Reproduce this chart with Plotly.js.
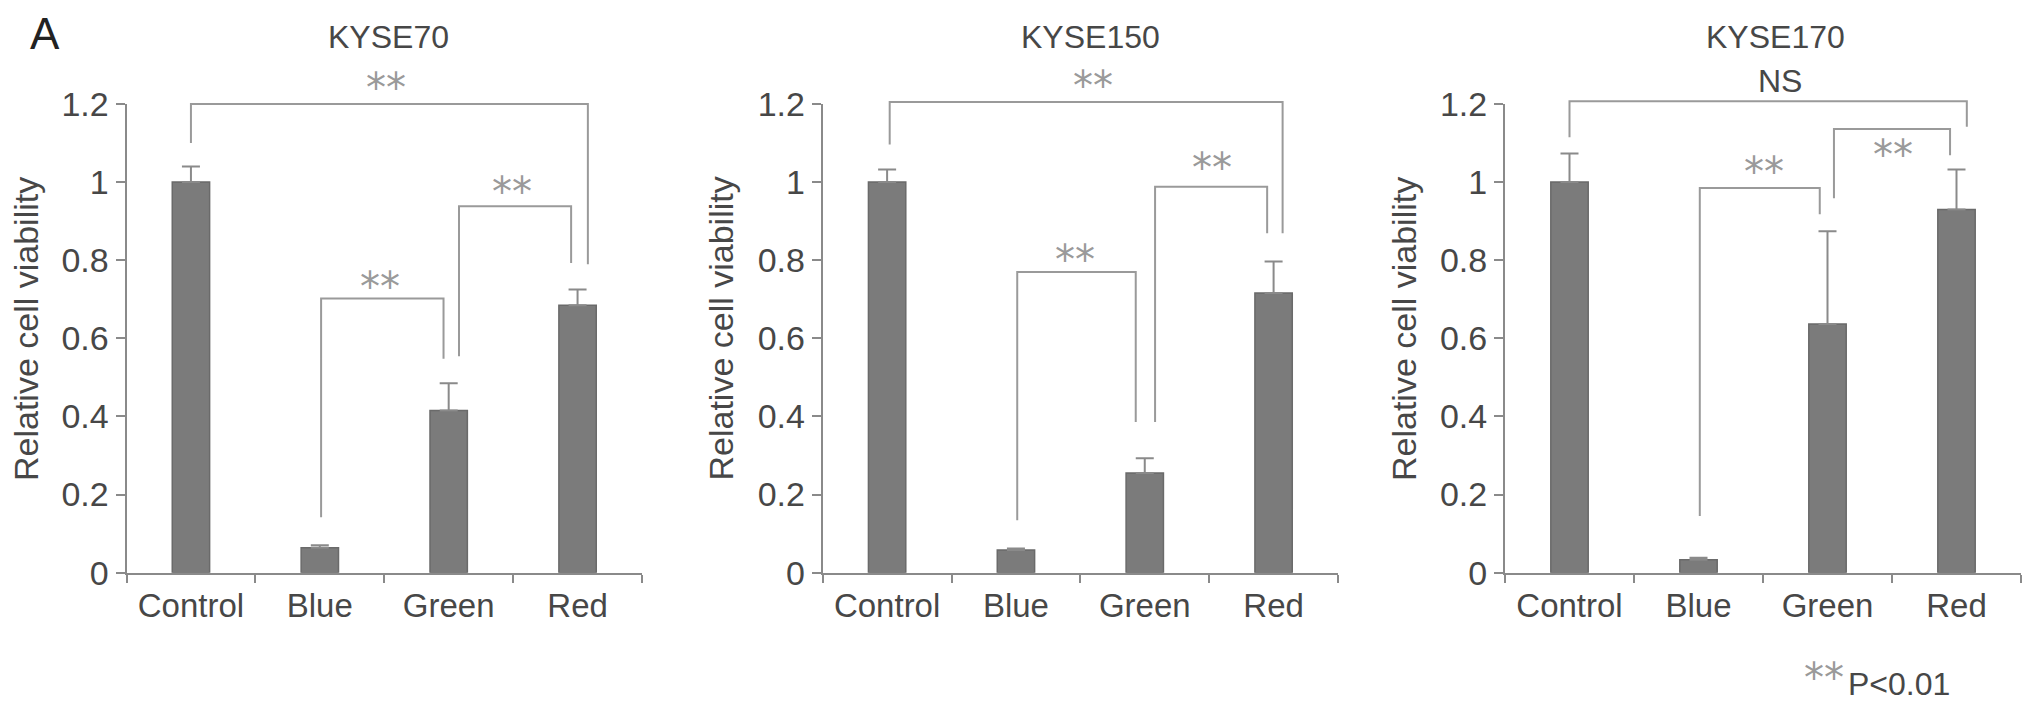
<!DOCTYPE html>
<html>
<head>
<meta charset="utf-8">
<script src="https://cdn.plot.ly/plotly-3.0.1.min.js"></script>
<style>
html,body{margin:0;padding:0;background:#ffffff;}
#chart{width:2032px;height:709px;}
</style>
</head>
<body>
<div id="chart"></div>
<script>
// ---------- data ----------
const categories = ['Control', 'Blue', 'Green', 'Red'];
const panelTitles = ['KYSE70', 'KYSE150', 'KYSE170'];
const yTickValues = [0, 0.2, 0.4, 0.6, 0.8, 1, 1.2];
const yTickLabels = ['0', '0.2', '0.4', '0.6', '0.8', '1', '1.2'];
const yAxisTitle = 'Relative cell viability';

const kyse70Values = [1.0, 0.064, 0.415, 0.685];
const kyse70Errors = [0.04, 0.006, 0.07, 0.04];
const kyse150Values = [1.0, 0.058, 0.255, 0.716];
const kyse150Errors = [0.032, 0.004, 0.038, 0.081];
const kyse170Values = [1.0, 0.033, 0.637, 0.930];
const kyse170Errors = [0.073, 0.005, 0.237, 0.102];

// significance brackets: left x, right x (category index), top y, left end y, right end y
const kyse70BracketLeftX   = [0.00, 1.01, 2.08];
const kyse70BracketRightX  = [3.08, 1.96, 2.95];
const kyse70BracketTopY    = [1.200, 0.702, 0.938];
const kyse70BracketLeftEnd = [1.100, 0.142, 0.554];
const kyse70BracketRightEnd= [0.790, 0.548, 0.793];
const kyse70BracketLabels  = ['**', '**', '**'];
const kyse70LabelX         = [1.51, 1.47, 2.49];
const kyse70LabelY         = [1.254, 0.745, 0.988];

const kyse150BracketLeftX   = [0.02, 1.01, 2.08];
const kyse150BracketRightX  = [3.07, 1.93, 2.95];
const kyse150BracketTopY    = [1.205, 0.770, 0.988];
const kyse150BracketLeftEnd = [1.096, 0.134, 0.386];
const kyse150BracketRightEnd= [0.869, 0.386, 0.869];
const kyse150BracketLabels  = ['**', '**', '**'];
const kyse150LabelX         = [1.60, 1.46, 2.52];
const kyse150LabelY         = [1.258, 0.814, 1.049];

const kyse170BracketLeftX   = [0.00, 1.01, 2.05];
const kyse170BracketRightX  = [3.08, 1.94, 2.95];
const kyse170BracketTopY    = [1.207, 0.985, 1.136];
const kyse170BracketLeftEnd = [1.115, 0.145, 0.959];
const kyse170BracketRightEnd= [1.142, 0.918, 1.069];
const kyse170BracketLabels  = ['NS', '**', '**'];
const kyse170LabelX         = [1.63, 1.51, 2.51];
const kyse170LabelY         = [1.258, 1.038, 1.081];

const panelLetter = 'A';
const footnoteStars = '**';
const footnoteText = 'P&lt;0.01';

// ---------- layout / style ----------
const W = 2032, H = 709;
const FONT = 'Liberation Sans, Arial, Helvetica, sans-serif';
const TEXT = '#474747';
const AXIS = '#8a8a8a';
const BAR = '#7b7b7b';
const BRACKET = '#9a9a9a';
const xDomains = [[126.5 / W, 642 / W], [822.7 / W, 1338 / W], [1505 / W, 2021 / W]];
const yDomain = [(H - 572.7) / H, (H - 104) / H];
const yMax = 1.2;
const bracketYMax = yMax * (1 - yDomain[0]) / (yDomain[1] - yDomain[0]);
const titleX = [388 / W, 1090 / W, 1775 / W];
const yTitleX = [26 / W, 720.5 / W, 1404 / W];

const panels = [
  {values: kyse70Values, errors: kyse70Errors, bl: kyse70BracketLeftX, br: kyse70BracketRightX,
   bt: kyse70BracketTopY, ble: kyse70BracketLeftEnd, bre: kyse70BracketRightEnd,
   labels: kyse70BracketLabels, lx: kyse70LabelX, ly: kyse70LabelY},
  {values: kyse150Values, errors: kyse150Errors, bl: kyse150BracketLeftX, br: kyse150BracketRightX,
   bt: kyse150BracketTopY, ble: kyse150BracketLeftEnd, bre: kyse150BracketRightEnd,
   labels: kyse150BracketLabels, lx: kyse150LabelX, ly: kyse150LabelY},
  {values: kyse170Values, errors: kyse170Errors, bl: kyse170BracketLeftX, br: kyse170BracketRightX,
   bt: kyse170BracketTopY, ble: kyse170BracketLeftEnd, bre: kyse170BracketRightEnd,
   labels: kyse170BracketLabels, lx: kyse170LabelX, ly: kyse170LabelY}
];

const traces = [];
const layout = {
  width: W, height: H,
  margin: {l: 0, r: 0, t: 0, b: 0, pad: 0},
  paper_bgcolor: '#ffffff',
  plot_bgcolor: 'rgba(0,0,0,0)',
  showlegend: false,
  bargap: 0.71,
  font: {family: FONT, color: TEXT},
  annotations: []
};

panels.forEach((p, i) => {
  const n = i + 1;
  const bn = i + 4;
  const xs = n === 1 ? '' : String(n);
  traces.push({
    type: 'bar', x: categories, y: p.values,
    xaxis: 'x' + xs, yaxis: 'y' + xs,
    marker: {color: BAR, line: {color: '#6a6a6a', width: 1.5}},
    error_y: {type: 'data', array: p.errors, arrayminus: p.values.map(() => 0),
              symmetric: false, color: AXIS, thickness: 2, width: 9},
    hoverinfo: 'skip'
  });
  const bx = [], by = [];
  for (let k = 0; k < p.bl.length; k++) {
    bx.push(p.bl[k], p.bl[k], p.br[k], p.br[k], null);
    by.push(p.ble[k], p.bt[k], p.bt[k], p.bre[k], null);
  }
  traces.push({
    type: 'scatter', mode: 'lines', x: bx, y: by,
    xaxis: 'x' + bn, yaxis: 'y' + bn,
    line: {color: BRACKET, width: 2}, connectgaps: false, hoverinfo: 'skip'
  });
  layout['xaxis' + xs] = {
    domain: xDomains[i], anchor: 'y' + xs, type: 'category',
    categoryorder: 'array', categoryarray: categories,
    range: [-0.5, 3.5], fixedrange: true,
    showline: true, linecolor: AXIS, linewidth: 2,
    ticks: 'outside', tickson: 'boundaries', ticklen: 8, tickwidth: 2, tickcolor: AXIS,
    ticklabelstandoff: 3,
    showgrid: false, zeroline: false,
    tickfont: {family: FONT, size: 33, color: TEXT}
  };
  layout['yaxis' + xs] = {
    domain: yDomain, anchor: 'x' + xs, range: [0, yMax], fixedrange: true,
    tickvals: yTickValues, ticktext: yTickLabels,
    showline: true, linecolor: AXIS, linewidth: 2,
    ticks: 'outside', ticklen: 9, tickwidth: 2, tickcolor: AXIS,
    showgrid: false, zeroline: false,
    tickfont: {family: FONT, size: 34, color: TEXT}
  };
  layout['xaxis' + bn] = {
    domain: xDomains[i], anchor: 'y' + bn, range: [-0.5, 3.5], visible: false, fixedrange: true
  };
  layout['yaxis' + bn] = {
    domain: [yDomain[0], 1], anchor: 'x' + bn, range: [0, bracketYMax], visible: false, fixedrange: true
  };
  // panel title
  layout.annotations.push({
    text: panelTitles[i], xref: 'paper', yref: 'paper', x: titleX[i], y: (H - 37) / H,
    xanchor: 'center', yanchor: 'middle', showarrow: false,
    font: {family: FONT, size: 32, color: TEXT}
  });
  // y axis title
  layout.annotations.push({
    text: yAxisTitle, xref: 'paper', yref: 'paper', x: yTitleX[i], y: (H - 329) / H,
    xanchor: 'center', yanchor: 'middle', textangle: -90, showarrow: false,
    font: {family: FONT, size: 34, color: TEXT}
  });
  // bracket labels
  for (let k = 0; k < p.labels.length; k++) {
    const isStar = p.labels[k] === '**';
    layout.annotations.push({
      text: p.labels[k], xref: 'x' + bn, yref: 'y' + bn, x: p.lx[k], y: p.ly[k],
      xanchor: 'center', yanchor: 'middle', showarrow: false,
      yshift: isStar ? -5 : 0,
      font: isStar ? {family: 'DejaVu Sans, sans-serif', size: 40, color: BRACKET}
                   : {family: FONT, size: 32, color: TEXT}
    });
  }
});

layout.annotations.push({
  text: panelLetter, xref: 'paper', yref: 'paper', x: 45 / W, y: (H - 33) / H,
  xanchor: 'center', yanchor: 'middle', showarrow: false,
  font: {family: FONT, size: 44, color: '#222222'}
});
layout.annotations.push({
  text: footnoteStars, xref: 'paper', yref: 'paper', x: 1824 / W, y: (H - 668) / H,
  xanchor: 'center', yanchor: 'middle', showarrow: false, yshift: -10,
  font: {family: 'DejaVu Sans, sans-serif', size: 40, color: BRACKET}
});
layout.annotations.push({
  text: footnoteText, xref: 'paper', yref: 'paper', x: 1846 / W, y: (H - 684) / H,
  xanchor: 'left', yanchor: 'middle', showarrow: false,
  font: {family: FONT, size: 32, color: TEXT}
});

Plotly.newPlot('chart', traces, layout, {staticPlot: true, displayModeBar: false});
</script>
</body>
</html>
